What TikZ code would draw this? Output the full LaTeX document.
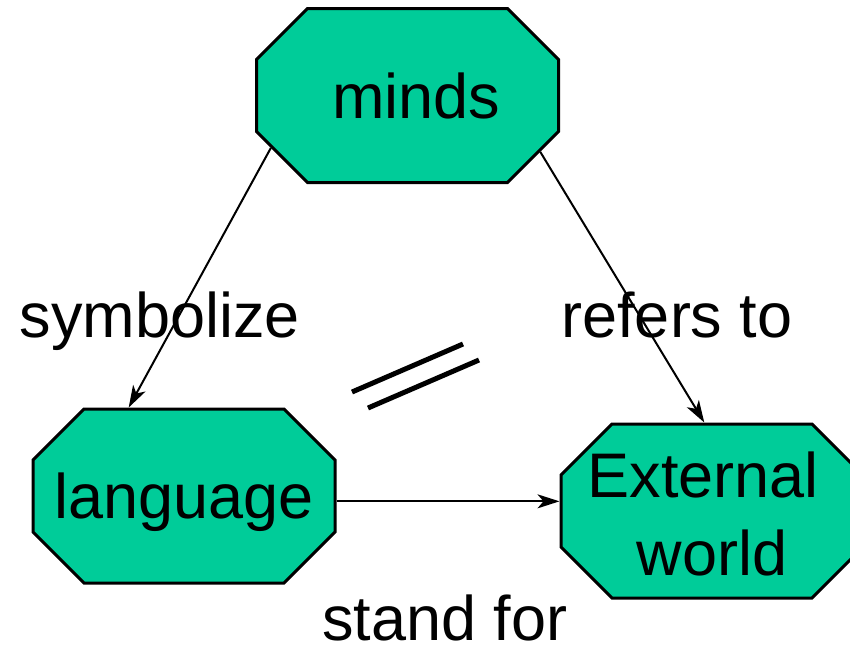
\documentclass[tikz,border=0pt]{standalone}
\usepackage{fontspec}
\setmainfont{Liberation Sans}
\usetikzlibrary{shapes.misc,arrows.meta}

\definecolor{mindgreen}{RGB}{0,204,153}

\tikzset{
	octbox/.style={chamfered rectangle, chamfered rectangle angle=45,
		chamfered rectangle xsep=20.5pt, chamfered rectangle ysep=20.5pt,
		text width=100pt, text height=10pt, text depth=0pt, inner sep=0pt,
		minimum width=151pt, minimum height=87pt,
		draw, line width=1.5pt, fill=mindgreen},
	octtext/.style={inner sep=0pt, text depth=0pt, align=center},
	link/.style={-{Stealth[length=11pt,width=7pt,inset=3pt]}, line width=1pt},
	tag/.style={anchor=base, inner sep=0pt}
}

\begin{document}
\begin{tikzpicture}[x=0.5pt,y=-0.5pt,font=\fontsize{31.5}{39}\selectfont]
	\useasboundingbox (0,0) rectangle (850,644);
	\clip (0,0) rectangle (850,644);

	\node[octbox, label={[octtext]center:\hphantom{\ }minds}] (minds) at (407.5,95.5) {};
	\node[octbox, label={[octtext]center:language}] (language) at (184,496) {};
	\node[octbox, label={[octtext,yshift=-1.5pt]center:External\hphantom{\ }\\world}] (world) at (712,511) {};

	\draw[link] (minds.201.9) -- (language.122.8);
	\draw[link] (minds.337.5) -- (world.95.8);
	\draw[link] (language.-2.6) -- (language.-2.6 -| world.west);

	\draw[line width=2.5pt] (352,392) -- (463,344);
	\draw[line width=2.5pt] (368,408) -- (479,360);

	\node[tag] (symb) at (160,337) {symbolize};
	\node[tag] (refer) at (677,337) {refers to};
	\node[tag] (stand) at (445,640) {stand for};
\end{tikzpicture}
\end{document}
